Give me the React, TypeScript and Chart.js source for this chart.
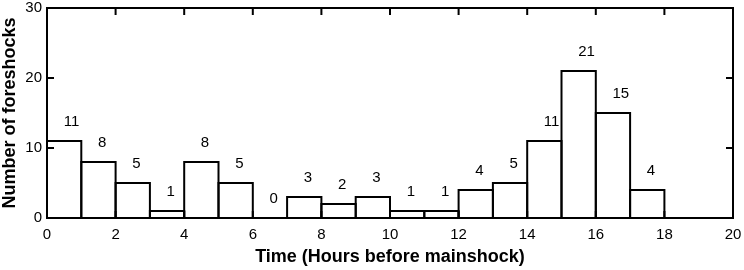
import React, { useEffect, useRef } from "react";
import { Chart, registerables } from "chart.js";

Chart.register(...registerables);

// Histogram bins (hours before mainshock), bin width 1 hour
const binStarts = [0, 1, 2, 3, 4, 5, 6, 7, 8, 9, 10, 11, 12, 13, 14, 15, 16, 17];
const counts = [11, 8, 5, 1, 8, 5, 0, 3, 2, 3, 1, 1, 4, 5, 11, 21, 15, 4];
// empty bin drawn without a count label
const emptyBinStarts = [18];
const emptyCounts = [0];

const xTickValues = [0, 2, 4, 6, 8, 10, 12, 14, 16, 18, 20];
const yTickValues = [0, 10, 20, 30];
const xTitle = "Time (Hours before mainshock)";
const yTitle = "Number of foreshocks";

const FONT = "'Liberation Sans', Arial, Helvetica, sans-serif";

const barOutlinePlugin = {
  id: "barOutline",
  afterDatasetsDraw(chart: any) {
    const ctx = chart.ctx;
    ctx.save();
    ctx.strokeStyle = "#000";
    ctx.lineWidth = 2;
    chart.data.datasets.forEach((ds: any, di: number) => {
      const meta = chart.getDatasetMeta(di);
      meta.data.forEach((el: any) => {
        const p = el.getProps(["x", "y", "base", "width"], true);
        ctx.strokeRect(p.x - p.width / 2, p.y, p.width, p.base - p.y);
      });
    });
    ctx.restore();
  },
};

const countLabelPlugin = {
  id: "countLabels",
  afterDatasetsDraw(chart: any) {
    const ctx = chart.ctx;
    const meta = chart.getDatasetMeta(0);
    ctx.save();
    ctx.fillStyle = "#000";
    ctx.font = `15px ${FONT}`;
    ctx.textAlign = "left";
    ctx.textBaseline = "middle";
    meta.data.forEach((el: any, i: number) => {
      const p = el.getProps(["x", "y"], true);
      ctx.fillText(String(counts[i]), p.x - 0.5, p.y - 19);
    });
    ctx.restore();
  },
};

const framePlugin = {
  id: "frame",
  afterDraw(chart: any) {
    const { ctx, chartArea } = chart;
    const { left, right, top, bottom } = chartArea;
    const xs = chart.scales.x;
    const ys = chart.scales.y;
    const tl = 7;
    ctx.save();
    ctx.strokeStyle = "#000";
    ctx.lineWidth = 2;
    ctx.strokeRect(left, top, right - left, bottom - top);
    ctx.beginPath();
    xTickValues.forEach((v) => {
      if (v <= 0 || v >= 20) return;
      const px = xs.getPixelForValue(v);
      ctx.moveTo(px, top);
      ctx.lineTo(px, top + tl);
      ctx.moveTo(px, bottom);
      ctx.lineTo(px, bottom - tl);
    });
    yTickValues.forEach((v) => {
      if (v <= 0 || v >= 30) return;
      const py = ys.getPixelForValue(v);
      ctx.moveTo(left, py);
      ctx.lineTo(left + tl, py);
      ctx.moveTo(right, py);
      ctx.lineTo(right - tl, py);
    });
    ctx.stroke();
    ctx.restore();
  },
};

export default function App() {
  const ref = useRef<HTMLCanvasElement | null>(null);
  useEffect(() => {
    if (!ref.current) return;
    const chart = new Chart(ref.current, {
      type: "bar",
      data: {
        datasets: [
          {
            data: binStarts.map((b, i) => ({ x: b + 0.5, y: counts[i] })),
            backgroundColor: "#fff",
            borderWidth: 0,
            barPercentage: 1,
            categoryPercentage: 1,
            grouped: false,
          },
          {
            data: emptyBinStarts.map((b, i) => ({ x: b + 0.5, y: emptyCounts[i] })),
            backgroundColor: "#fff",
            borderWidth: 0,
            barPercentage: 1,
            categoryPercentage: 1,
            grouped: false,
          },
        ],
      },
      options: {
        responsive: false,
        devicePixelRatio: 1,
        animation: false,
        layout: { padding: { top: 8, right: 11, left: 0, bottom: 0 } },
        plugins: {
          legend: { display: false },
          tooltip: { enabled: false },
          title: { display: false },
        },
        scales: {
          x: {
            type: "linear",
            min: 0,
            max: 20,
            offset: false,
            afterBuildTicks: (s: any) => {
              s.ticks = xTickValues.map((v) => ({ value: v }));
            },
            ticks: {
              color: "#000",
              font: { family: FONT, size: 15 },
              padding: 0,
              maxRotation: 0,
            },
            grid: { display: false, drawTicks: true, tickLength: 8, offset: false },
            border: { display: false },
            title: {
              display: true,
              text: xTitle,
              color: "#000",
              font: { family: FONT, size: 18, weight: "bold" },
              padding: { top: 0, bottom: 2 },
            },
            afterFit: (s: any) => {
              s.height = 52;
            },
          },
          y: {
            type: "linear",
            min: 0,
            max: 30,
            offset: false,
            afterBuildTicks: (s: any) => {
              s.ticks = yTickValues.map((v) => ({ value: v }));
            },
            ticks: {
              color: "#000",
              font: { family: FONT, size: 15, lineHeight: 1 },
              padding: 0,
            },
            grid: { display: false, drawTicks: true, tickLength: 5 },
            border: { display: false },
            title: {
              display: true,
              text: yTitle,
              color: "#000",
              font: { family: FONT, size: 18, weight: "bold", lineHeight: 1.1 },
              padding: { top: 0, bottom: 0 },
            },
            afterFit: (s: any) => {
              s.width = 47;
            },
          },
        },
      },
      plugins: [barOutlinePlugin, countLabelPlugin, framePlugin],
    });
    return () => chart.destroy();
  }, []);
  return (
    <div style={{ position: "absolute", left: 0, top: 0, width: 744, height: 270, background: "#fff" }}>
      <canvas ref={ref} width={744} height={270} style={{ display: "block" }} />
    </div>
  );
}
